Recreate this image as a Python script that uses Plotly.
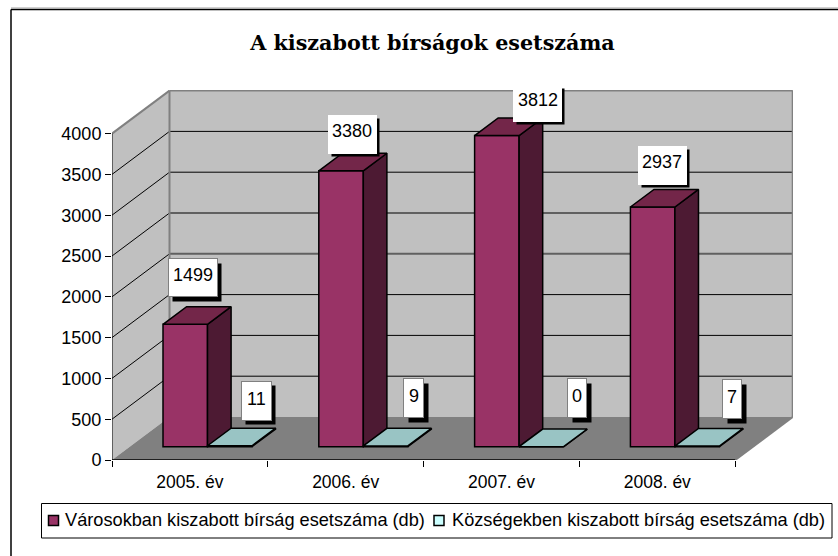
import plotly.graph_objects as go

# ---- data ----
categories = ["2005. év", "2006. év", "2007. év", "2008. év"]
cities_name = "Városokban kiszabott bírság esetszáma (db)"
villages_name = "Községekben kiszabott bírság esetszáma (db)"
cities = [1499, 3380, 3812, 2937]
villages = [11, 9, 0, 7]
value_ticks = [0, 500, 1000, 1500, 2000, 2500, 3000, 3500, 4000]
title_text = "A kiszabott bírságok esetszáma"

# ---- plot frame (pixels) ----
W, H = 838, 556
ML, MR, MT, MB = 112, 45, 90, 96
PW, PH = W - ML - MR, H - MT - MB
PX_PER_CAT = 155.8
PX_PER_VAL = 0.0816
XMAX = PW / PX_PER_CAT
YMAX = PH / PX_PER_VAL


def paper_x(px):
    return (px - ML) / PW


def paper_y(py):
    return 1 - (py - MT) / PH


# ---- oblique projection: depth 0 = front of floor, depth 1 = back wall ----
DEPTH_X = 57.5 / PX_PER_CAT
DEPTH_Y = 43.0 / PX_PER_VAL


def proj(x, v, d):
    return x + d * DEPTH_X, v + d * DEPTH_Y


BAR_D0 = 0.31
BAR_DEPTH = 0.41
BAR_W = 44.5 / PX_PER_CAT
LEFT_GAP = 0.213
N = len(categories)

FRONT_A, SIDE_A, TOP_A = "#993366", "#4d1a33", "#732649"
FRONT_B, SIDE_B, TOP_B = "#ccffff", "#669999", "#99c4c4"

shapes = []


def poly(points, fill, line="rgba(0,0,0,0)", lw=0):
    path = "M " + " L ".join(f"{x},{y}" for x, y in points) + " Z"
    shapes.append(dict(type="path", path=path, xref="x", yref="y", layer="below",
                       fillcolor=fill, line=dict(color=line, width=lw)))


def seg(p, q, color, lw):
    shapes.append(dict(type="line", xref="x", yref="y", layer="below",
                       x0=p[0], y0=p[1], x1=q[0], y1=q[1], line=dict(color=color, width=lw)))


top = value_ticks[-1]
# walls and floor
poly([proj(0, 0, 0), proj(0, top, 0), proj(0, top, 1), proj(0, 0, 1)], "#c0c0c0")
poly([proj(0, 0, 1), proj(0, top, 1), proj(N, top, 1), proj(N, 0, 1)], "#c0c0c0")
poly([proj(0, 0, 0), proj(N, 0, 0), proj(N, 0, 1), proj(0, 0, 1)], "#808080")
# gridlines
for v in value_ticks[1:-1]:
    seg(proj(0, v, 0), proj(0, v, 1), "black", 1)
    heavy = v in (2000, 2500)
    seg(proj(0, v, 1), proj(N, v, 1), "#606060" if heavy else "black", 2 if heavy else 1)
# wall edges
seg(proj(0, top, 0), proj(0, top, 1), "#808080", 2)
seg(proj(0, top, 1), proj(N, top, 1), "#808080", 2)
seg(proj(0, 0, 1), proj(0, top, 1), "#808080", 2)
seg(proj(N, 0, 1), proj(N, top, 1), "#808080", 2)
seg(proj(N, 0, 0), proj(N, 0, 1), "#808080", 2)
# axis lines
seg(proj(0, 0, 0), proj(0, top, 0), "black", 1)
seg(proj(0, 0, 0), proj(N, 0, 0), "black", 1.5)


def bar_lefts(series_index):
    return [i + LEFT_GAP + series_index * BAR_W for i in range(N)]


def box_traces(name, values, lefts, front, side, topc):
    base = DEPTH_Y * BAR_D0
    xs = [proj(l + BAR_W / 2, 0, BAR_D0)[0] for l in lefts]
    bar = go.Bar(x=xs, y=values, base=[base] * N, width=BAR_W, name=name, marker=dict(
        color=front, line=dict(color="black", width=1.5)), showlegend=False,
        hoverinfo="x+y")
    sx, sy, tx, ty = [], [], [], []
    for l, v in zip(lefts, values):
        r = l + BAR_W
        d0, d1 = BAR_D0, BAR_D0 + BAR_DEPTH
        side_pts = [proj(r, 0, d0), proj(r, v, d0), proj(r, v, d1), proj(r, 0, d1), proj(r, 0, d0)]
        top_pts = [proj(l, v, d0), proj(r, v, d0), proj(r, v, d1), proj(l, v, d1), proj(l, v, d0)]
        sx += [p[0] for p in side_pts] + [None]
        sy += [p[1] for p in side_pts] + [None]
        tx += [p[0] for p in top_pts] + [None]
        ty += [p[1] for p in top_pts] + [None]
    face = dict(mode="lines", fill="toself", showlegend=False, hoverinfo="skip")
    return [bar,
            go.Scatter(x=sx, y=sy, fillcolor=side, line=dict(color="black", width=1.5), **face),
            go.Scatter(x=tx, y=ty, fillcolor=topc, line=dict(color="black", width=1.5), **face)]


fig = go.Figure()
for t in box_traces(cities_name, cities, bar_lefts(0), FRONT_A, SIDE_A, TOP_A):
    fig.add_trace(t)
for t in box_traces(villages_name, villages, bar_lefts(1), FRONT_B, SIDE_B, TOP_B):
    fig.add_trace(t)

# ---- value labels: boxes with a hard shadow, nudged by hand as in the original ----
FONT = "Liberation Sans"
FS = 18
annotations = []
city_label_style = [
    dict(dx=7.3, dy=46.7, w=48, h=37, border="#808080", sx=4, sy=5, lift=2.3),
    dict(dx=11, dy=36.5, w=47, h=37, border="white", sx=3, sy=3, lift=3.5),
    dict(dx=41, dy=32, w=47, h=35, border="white", sx=3, sy=3, lift=3.5),
    dict(dx=9.5, dy=41.8, w=47, h=37, border="white", sx=3, sy=3, lift=3),
]
village_label_style = [
    dict(dx=26.5, dy=45, w=29, h=38, border="#808080", sx=4, sy=4, lift=2),
    dict(dx=28, dy=48, w=19, h=38, border="#808080", sx=5, sy=5, lift=2),
    dict(dx=35.5, dy=49, w=18, h=38, border="#808080", sx=5, sy=5, lift=2),
    dict(dx=35, dy=47, w=18, h=38, border="#808080", sx=5, sy=5, lift=2),
]


def add_labels(values, lefts, styles):
    for l, v, s in zip(lefts, values, styles):
        x, y = proj(l + BAR_W / 2, v, BAR_D0)
        common = dict(x=x, y=y, xref="x", yref="y", showarrow=False,
                      font=dict(family=FONT, size=FS, color="black"))
        box = dict(width=s["w"], height=s["h"], borderpad=0, text=" ")
        annotations.append(dict(bgcolor="black", xshift=s["dx"] + s["sx"],
                                yshift=s["dy"] - s["sy"], **box, **common))
        annotations.append(dict(bgcolor="white", bordercolor=s["border"], borderwidth=1,
                                xshift=s["dx"], yshift=s["dy"], **box, **common))
        annotations.append(dict(text=str(v), xshift=s["dx"], yshift=s["dy"] + s["lift"], **common))


add_labels(cities, bar_lefts(0), city_label_style)
add_labels(villages, bar_lefts(1), village_label_style)

# ---- chart border ----
for a, b in [((11, 9.5), (W + 5, 9.5)), ((11, 9.5), (11, H + 5))]:
    shapes.append(dict(type="line", xref="paper", yref="paper", layer="below",
                       x0=paper_x(a[0]), y0=paper_y(a[1]), x1=paper_x(b[0]), y1=paper_y(b[1]),
                       line=dict(color="black", width=1.5)))
shapes.append(dict(type="line", xref="paper", yref="paper", layer="below",
                   x0=paper_x(11), y0=paper_y(8), x1=paper_x(W + 5), y1=paper_y(8),
                   line=dict(color="#a0a0a0", width=1)))

# ---- legend box ----
shapes.append(dict(type="rect", xref="paper", yref="paper", layer="below",
                   x0=paper_x(41.5), y0=paper_y(503.5), x1=paper_x(832), y1=paper_y(538),
                   fillcolor="white", line=dict(color="black", width=1)))
for sw_x, col, name, tx in [(48.5, FRONT_A, cities_name, 64), (434, FRONT_B, villages_name, 451)]:
    shapes.append(dict(type="rect", xref="paper", yref="paper", layer="above",
                       x0=paper_x(sw_x), y0=paper_y(515.5), x1=paper_x(sw_x + 10), y1=paper_y(525.5),
                       fillcolor=col, line=dict(color="black", width=1.5)))
    annotations.append(dict(text=name, xref="paper", yref="paper", x=paper_x(tx), y=paper_y(520),
                            xanchor="left", yanchor="middle", showarrow=False, xshift=-1,
                            font=dict(family=FONT, size=18.2, color="black")))

fig.update_layout(
    width=W, height=H, autosize=False,
    margin=dict(l=ML, r=MR, t=MT, b=MB, pad=0),
    paper_bgcolor="white", plot_bgcolor="rgba(0,0,0,0)",
    barmode="overlay", showlegend=False,
    title=dict(text=f"<b>{title_text}</b>", x=432.5 / W, xanchor="center", y=1 - 43 / H, yanchor="middle",
               font=dict(family="DejaVu Serif", size=20.7, color="black")),
    xaxis=dict(range=[0, XMAX], showgrid=False, zeroline=False, showline=False,
               tickmode="array", tickvals=[i + 0.5 for i in range(N)], ticktext=categories,
               ticks="", tickfont=dict(family=FONT, size=FS - 0.5, color="black"), ticklabelstandoff=9,
               minor=dict(tickmode="array", tickvals=list(range(N + 1)), ticks="outside", ticklen=6,
                          tickcolor="black", tickwidth=1, showgrid=False)),
    yaxis=dict(range=[0, YMAX], showgrid=False, zeroline=False, showline=False,
               tickmode="array", tickvals=value_ticks, ticks="outside", ticklen=6, tickcolor="black",
               tickwidth=1, tickfont=dict(family=FONT, size=FS, color="black")),
    shapes=shapes, annotations=annotations,
)

fig.write_html("out.html", config=dict(displayModeBar=False),
               post_script="document.body.style.margin='0';")
